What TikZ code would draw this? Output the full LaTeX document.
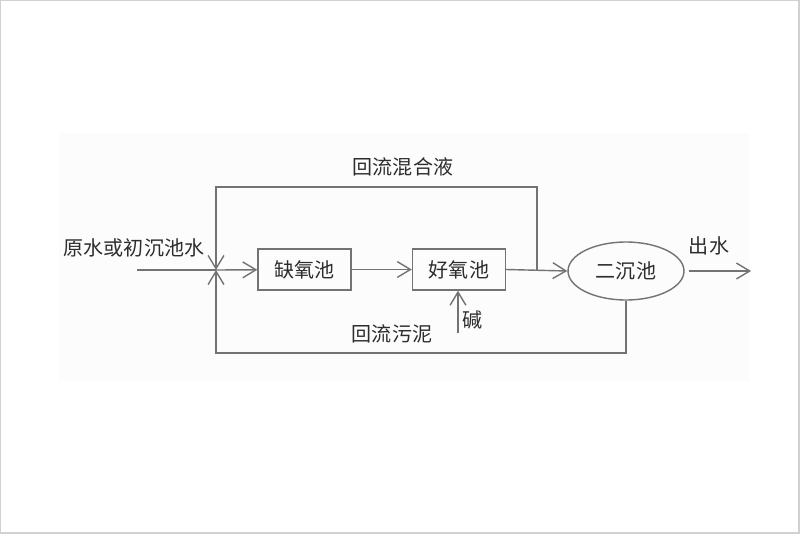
\documentclass[tikz,border=0pt]{standalone}
\usepackage{fontspec}
\newfontfamily\cjk{Noto Sans CJK SC}
\usetikzlibrary{shapes.geometric,arrows.meta,positioning,calc}
\definecolor{clrline}{RGB}{115,115,115}
\definecolor{clrtext}{RGB}{45,45,45}

\begin{document}
\begin{tikzpicture}[
    x=0.02cm, y=-0.02cm,
    font=\cjk\fontsize{11.4}{13}\selectfont, text=clrtext,
    tank/.style={draw=clrline, line width=0.8pt, minimum width=1.86cm,
                 minimum height=0.82cm, inner sep=0pt},
    clar/.style={ellipse, draw=clrline, line width=0.8pt, minimum width=2.32cm,
                 minimum height=1.16cm, inner sep=0pt},
    lbl/.style={inner sep=0pt},
    pipe/.style={clrline, line width=0.8pt},
    arr/.style={pipe, -{Straight Barb[length=7.5pt,width=9pt]}},
  ]
    % frame and faint panel
    \useasboundingbox (0,0) rectangle (800,534);
    \fill[black!1] (59,133) rectangle (750,381);
    \draw[black!18, line width=1pt] (0.5,0.5) rectangle (799,533);

    \node[tank] (anox) at (304.5,269.5) {缺氧池};
    \node[tank] (aer)  at (459,269.5)   {好氧池};
    \node[clar] (sec)  at (626,271)     {二沉池};

    \coordinate (in)   at (137,270);
    \coordinate (jn)   at (216,270);
    \coordinate (out)  at (751,271);
    \coordinate (tap)  at (537,270);
    \coordinate (alk)  at (458,333);

    \node[lbl] (inlbl)  at (134,248) {原水或初沉池水};
    \node[lbl] (mixlbl) at (403,167) {回流混合液};
    \node[lbl] (slglbl) at (392,334) {回流污泥};
    \node[lbl] (alklbl) at (473,320) {碱};
    \node[lbl] (outlbl) at (709,246) {出水};

    \draw[pipe] (in) -- (jn);
    \draw[arr]  (jn) -- (anox);
    \draw[arr]  (anox) -- (aer);
    \draw[arr]  (aer.east) -- (sec.west);
    \draw[arr]  (sec.east |- out) ++(4,0) -- (out);
    \draw[arr]  (alk) -- (alk |- aer.south);

    % return loops
    \draw[arr] (tap) -- (537,187) -- (216,187) -- (jn);
    \draw[arr] (sec.south) -- (626,353) -- (216,353) -- (jn);
  \end{tikzpicture}
\end{document}
